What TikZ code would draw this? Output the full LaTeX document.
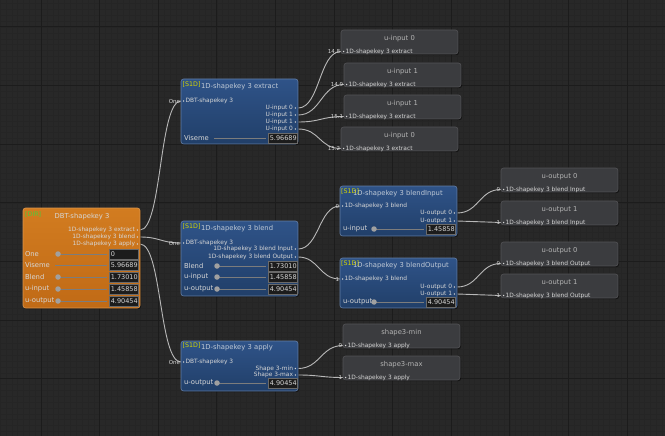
\documentclass[tikz,border=0pt]{standalone}
\usepackage{fontspec}
\newfontfamily\uif{DejaVu Sans}
\usetikzlibrary{shadows}
\pgfdeclarelayer{gridl}
\pgfdeclarelayer{wirel}
\pgfsetlayers{gridl,wirel,main}
\definecolor{bg}{HTML}{282828}
\definecolor{gmin}{HTML}{252525}
\definecolor{gmaj}{HTML}{1C1C1C}
\definecolor{orgT}{HTML}{D27C20}
\definecolor{orgB}{HTML}{C06A16}
\definecolor{bluT}{HTML}{2F5388}
\definecolor{bluB}{HTML}{213F69}
\definecolor{gryN}{HTML}{3B3C3F}
\definecolor{txt}{HTML}{D6D6D6}
\definecolor{ttlB}{HTML}{BFC9D6}
\definecolor{ttlG}{HTML}{B4B4B4}
\definecolor{wirec}{HTML}{B8B8B8}
\definecolor{tagY}{HTML}{D6D600}
\definecolor{tagG}{HTML}{4CCB3C}
\definecolor{vbF}{HTML}{1C1C1C}
\definecolor{vbD}{HTML}{6A6A6A}
\definecolor{sldL}{HTML}{7C7C7C}
\definecolor{sldC}{HTML}{A0A0A0}
\tikzset{
 blk/.style={inner sep=0, outer sep=0, anchor=north west, rounded corners=2.5pt,
   drop shadow={shadow xshift=1pt, shadow yshift=-1.2pt, opacity=0.45, fill=black}},
 orgblk/.style={blk, top color=orgT, bottom color=orgB, draw=orgT!80!white, line width=0.6pt},
 blublk/.style={blk, top color=bluT, bottom color=bluB, draw=bluT!75!white, line width=0.6pt},
 gryblk/.style={blk, fill=gryN, draw=gryN!88!white, line width=0.6pt, minimum width=117pt, minimum height=24pt},
 lbl/.style={inner sep=0, outer sep=0, text=txt, font=\uif\fontsize{5.9}{7}\selectfont},
 row/.style={lbl, font=\uif\fontsize{6.8}{8}\selectfont},
 val/.style={lbl, font=\uif\fontsize{6.5}{8}\selectfont},
 ttl/.style={row, text=ttlB, anchor=west},
 gttl/.style={row, text=ttlG},
 wl/.style={lbl, font=\uif\fontsize{5.5}{6}\selectfont},
 tag/.style={inner sep=0, anchor=west, font=\uif\fontsize{6.3}{7}\selectfont},
 wire/.style={draw=wirec, line width=0.9pt},
 port/.style={circle, fill=txt, inner sep=0, minimum size=1.6pt},
 vbox/.style={inner sep=0, fill=vbF, draw=vbD, line width=0.5pt, minimum width=29pt, minimum height=10pt, anchor=west},
 sline/.style={draw=sldL, line width=0.8pt},
 knob/.style={circle, fill=sldC, inner sep=0, minimum size=5.5pt},
}
\newcommand\portout[4]{%
  \node[lbl, anchor=east] (#1-l) at ({#2-5},#3) {#4};
  \node[port] (#1-d) at ({#2-2.6},#3) {};
  \coordinate (#1) at (#2,#3);}
\newcommand\portin[4]{%
  \coordinate (#1) at (#2,#3);
  \node[port] (#1-d) at ({#2+2.6},#3) {};
  \node[lbl, anchor=west] (#1-l) at ({#2+4.6},#3) {#4};}
\newcommand\wirelab[4]{%
  \node[wl, anchor=east] (#1) at ({#2-1},#3) {#4};}
\newcommand\valbx[4]{%
  \node[vbox] (#1) at (#2,#3) {};
  \begin{scope}
    \clip ({#2+0.5},{#3-4.5}) rectangle ({#2+28.5},{#3+4.5});
    \node[val, anchor=west] (#1-t) at ({#2+1.8},#3) {#4};
  \end{scope}}
\newcommand\slrow[7]{%
  \node[row, anchor=west] (#1-l) at (#2,#3) {#4};
  \draw[sline] (#5,#3) -- ({#6-2},#3);
  \node[knob] (#1-k) at (#5,#3) {};
  \valbx{#1-v}{#6}{#3}{#7}}
\newcommand\slrowv[7]{%
  \node[row, anchor=west] (#1-l) at (#2,#3) {#4};
  \draw[sline] (#5,#3) -- ({#6-2},#3);
  \valbx{#1-v}{#6}{#3}{#7}}
\newcommand\greynode[6]{%
  \node[gryblk] (#1) at (#2,#3) {};
  \node[gttl] (#1-t) at ({#2+58.5},{#3+8.5}) {#4};
  \portin{#1-in}{#2}{#3+21.5}{#5}
  \wirelab{#1-w}{#2}{#3+21.5}{#6}}
\begin{document}
\begin{tikzpicture}[x=1pt,y=-1pt]
\useasboundingbox (0,0) rectangle (665,436);
\begin{pgfonlayer}{gridl}
\fill[bg] (0,0) rectangle (665,436);
\foreach \i in {-7,...,107} \draw[gmin, line width=0.4pt] ({41+5.86*\i},0) -- ({41+5.86*\i},436);
\foreach \i in {-5,...,70} \draw[gmin, line width=0.4pt] (0,{27+5.86*\i}) -- (665,{27+5.86*\i});
\foreach \i in {0,...,10} \draw[gmaj, line width=1pt] ({41+58.6*\i},0) -- ({41+58.6*\i},436);
\foreach \i in {0,...,7} \draw[gmaj, line width=1pt] (0,{27+58.6*\i}) -- (665,{27+58.6*\i});
\end{pgfonlayer}

% ---------- DBT-shapekey 3 (orange)
\node[orgblk, minimum width=117pt, minimum height=100pt] (dbt) at (23,208) {};
\node[tag, text=tagG] (dbt-tag) at (25,214.5) {[DIR]};
\node[row] (dbt-ttl) at (82,217) {DBT-shapekey 3};
\portout{dbt-o1}{140}{230}{1D-shapekey 3 extract}
\portout{dbt-o2}{140}{237}{1D-shapekey 3 blend}
\portout{dbt-o3}{140}{244}{1D-shapekey 3 apply}
\slrow{dbt-r1}{25}{254}{One}{58}{109}{0}
\slrowv{dbt-r2}{25}{265}{Viseme}{55}{109}{5.96689}
\slrow{dbt-r3}{25}{277}{Blend}{58}{109}{1.73010}
\slrow{dbt-r4}{25}{289}{u-input}{58}{109}{1.45858}
\slrow{dbt-r5}{25}{301}{u-output}{58}{109}{4.90454}

% ---------- extract
\node[blublk, minimum width=117pt, minimum height=65pt] (ext) at (181,79) {};
\node[tag, text=tagY] (ext-tag) at (182.5,84.5) {[S1D]};
\node[ttl] (ext-ttl) at (201,87) {1D-shapekey 3 extract};
\portin{ext-in}{181}{101}{DBT-shapekey 3}
\wirelab{ext-w}{181}{101}{One}
\portout{ext-o1}{298}{108}{U-input 0}
\portout{ext-o2}{298}{115}{U-input 1}
\portout{ext-o3}{298}{122}{U-input 1}
\portout{ext-o4}{298}{129}{U-input 0}
\slrowv{ext-r1}{184}{138}{Viseme}{214}{268}{5.96689}

% ---------- blend
\node[blublk, minimum width=117pt, minimum height=75pt] (bl) at (181,221) {};
\node[tag, text=tagY] (bl-tag) at (182.5,227) {[S1D]};
\node[ttl] (bl-ttl) at (201,229) {1D-shapekey 3 blend};
\portin{bl-in}{181}{243}{DBT-shapekey 3}
\wirelab{bl-w}{181}{243}{One}
\portout{bl-o1}{298}{249}{1D-shapekey 3 blend Input}
\portout{bl-o2}{298}{257}{1D-shapekey 3 blend Output}
\slrow{bl-r1}{184}{266}{Blend}{217}{268}{1.73010}
\slrow{bl-r2}{184}{277}{u-input}{217}{268}{1.45858}
\slrow{bl-r3}{184}{289}{u-output}{217}{268}{4.90454}

% ---------- apply
\node[blublk, minimum width=117pt, minimum height=50pt] (ap) at (181,341) {};
\node[tag, text=tagY] (ap-tag) at (182.5,346) {[S1D]};
\node[ttl] (ap-ttl) at (201,347.5) {1D-shapekey 3 apply};
\portin{ap-in}{181}{362}{DBT-shapekey 3}
\wirelab{ap-w}{181}{362}{One}
\portout{ap-o1}{298}{368.5}{Shape 3-min}
\portout{ap-o2}{298}{375}{Shape 3-max}
\slrow{ap-r1}{184}{383}{u-output}{217}{268}{4.90454}

% ---------- blendInput
\node[blublk, minimum width=117pt, minimum height=50pt] (bi) at (340,186) {};
\node[ttl] (bi-ttl) at (353,194) {1D-shapekey 3 blendInput};
\node[tag, text=tagY] (bi-tag) at (341,192) {[S1D]};
\portin{bi-in}{340}{206}{1D-shapekey 3 blend}
\wirelab{bi-w}{340}{206}{0}
\portout{bi-o1}{457}{213}{U-output 0}
\portout{bi-o2}{457}{221}{U-output 1}
\slrow{bi-r1}{343}{229}{u-input}{374}{426}{1.45858}

% ---------- blendOutput
\node[blublk, minimum width=117pt, minimum height=50pt] (bo) at (340,258) {};
\node[ttl] (bo-ttl) at (353,266) {1D-shapekey 3 blendOutput};
\node[tag, text=tagY] (bo-tag) at (341,264) {[S1D]};
\portin{bo-in}{340}{279}{1D-shapekey 3 blend}
\wirelab{bo-w}{340}{279}{1}
\portout{bo-o1}{457}{287}{U-output 0}
\portout{bo-o2}{457}{294}{U-output 1}
\slrow{bo-r1}{343}{302}{u-output}{374}{426}{4.90454}

% ---------- grey output nodes
\greynode{g1}{341}{30}{u-input 0}{1D-shapekey 3 extract}{14.8}
\greynode{g2}{344}{63}{u-input 1}{1D-shapekey 3 extract}{14.9}
\greynode{g3}{344}{95}{u-input 1}{1D-shapekey 3 extract}{15.1}
\greynode{g4}{341}{127}{u-input 0}{1D-shapekey 3 extract}{15.2}
\greynode{g5}{501}{168}{u-output 0}{1D-shapekey 3 blend Input}{0}
\greynode{g6}{501}{201}{u-output 1}{1D-shapekey 3 blend Input}{1}
\greynode{g7}{501}{242}{u-output 0}{1D-shapekey 3 blend Output}{0}
\greynode{g8}{501}{274}{u-output 1}{1D-shapekey 3 blend Output}{1}
\greynode{g9}{343}{324}{shape3-min}{1D-shapekey 3 apply}{0}
\greynode{g10}{343}{356}{shape3-max}{1D-shapekey 3 apply}{1}

% ---------- wires
\begin{pgfonlayer}{wirel}
\draw[wire] (dbt-o1) .. controls +(22,0) and +(-22,0) .. (ext-in);
\draw[wire] (dbt-o2) .. controls +(20,0) and +(-20,0) .. (bl-in);
\draw[wire] (dbt-o3) .. controls +(22,0) and +(-22,0) .. (ap-in);
\draw[wire] (ext-o1) .. controls +(22,0) and +(-22,0) .. (g1-in);
\draw[wire] (ext-o2) .. controls +(23,0) and +(-23,0) .. (g2-in);
\draw[wire] (ext-o3) .. controls +(23,0) and +(-23,0) .. (g3-in);
\draw[wire] (ext-o4) .. controls +(22,0) and +(-22,0) .. (g4-in);
\draw[wire] (bl-o1) .. controls +(21,0) and +(-21,0) .. (bi-in);
\draw[wire] (bl-o2) .. controls +(21,0) and +(-21,0) .. (bo-in);
\draw[wire] (bi-o1) .. controls +(22,0) and +(-22,0) .. (g5-in);
\draw[wire] (bi-o2) .. controls +(22,0) and +(-22,0) .. (g6-in);
\draw[wire] (bo-o1) .. controls +(22,0) and +(-22,0) .. (g7-in);
\draw[wire] (bo-o2) .. controls +(22,0) and +(-22,0) .. (g8-in);
\draw[wire] (ap-o1) .. controls +(22,0) and +(-22,0) .. (g9-in);
\draw[wire] (ap-o2) .. controls +(22,0) and +(-22,0) .. (g10-in);
\end{pgfonlayer}
\end{tikzpicture}
\end{document}
